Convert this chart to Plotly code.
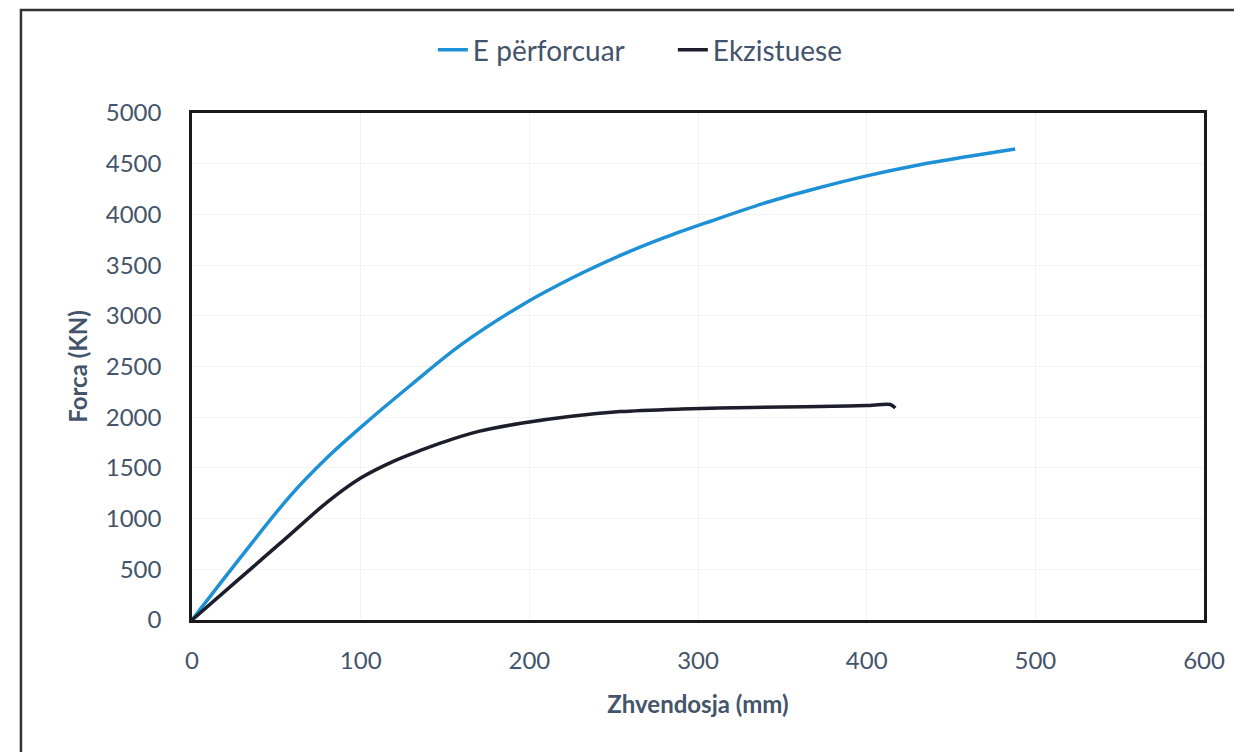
import plotly.graph_objects as go

# Data
x_perforcuar = [0, 28, 58, 80, 100, 130, 160, 195, 225, 254, 280, 307, 341, 370, 400, 430, 460, 488]
y_perforcuar = [0, 600, 1220, 1600, 1900, 2320, 2720, 3100, 3370, 3595, 3770, 3930, 4120, 4255, 4380, 4485, 4570, 4645]

x_ekzistuese = [0, 28, 58, 80, 100, 120, 135, 150, 170, 195, 225, 254, 290, 313, 350, 380, 400, 414, 417]
y_ekzistuese = [0, 405, 840, 1160, 1400, 1570, 1670, 1760, 1860, 1940, 2010, 2055, 2080, 2090, 2100, 2108, 2115, 2125, 2090]

x_ticks = [0, 100, 200, 300, 400, 500, 600]
y_ticks = [0, 500, 1000, 1500, 2000, 2500, 3000, 3500, 4000, 4500, 5000]

FONT = "Lato"
TXT = "#44546A"

fig = go.Figure()
fig.add_trace(go.Scatter(x=x_perforcuar, y=y_perforcuar, mode="lines", name="E përforcuar",
                         line=dict(color="#1E90D6", width=3.5, shape="spline", smoothing=1)))
fig.add_trace(go.Scatter(x=x_ekzistuese, y=y_ekzistuese, mode="lines", name="Ekzistuese",
                         line=dict(color="#1C1F2B", width=3.5, shape="spline", smoothing=0.8)))

fig.update_layout(
    width=1234, height=744,
    margin=dict(l=184, r=38, t=105, b=132),
    paper_bgcolor="white", plot_bgcolor="white",
    font=dict(family=FONT, size=24, color=TXT),
    legend=dict(orientation="h", x=0.238, xanchor="left", y=1.124, yanchor="middle",
                font=dict(family=FONT, size=28, color=TXT),
                entrywidth=195, entrywidthmode="pixels", tracegroupgap=0),
    shapes=[dict(type="rect", xref="paper", yref="paper", x0=-0.169, x1=1.06, y0=-0.30, y1=1.203,
                 line=dict(color="#333333", width=2.5), fillcolor="rgba(0,0,0,0)", layer="below")],
)
fig.update_xaxes(range=[0, 600], tickvals=x_ticks, showgrid=True, gridcolor="#F3F3F3",
                 showline=True, mirror=True, linecolor="#1a1a1a", linewidth=2.5, zeroline=False,
                 ticks="", ticklabelstandoff=17, tickfont=dict(size=24, color=TXT),
                 title=dict(text="<b>Zhvendosja (mm)</b>", font=dict(size=24, color=TXT), standoff=24))
fig.update_yaxes(range=[0, 5000], tickvals=y_ticks, showgrid=True, gridcolor="#F3F3F3",
                 showline=True, mirror=True, linecolor="#1a1a1a", linewidth=2.5, zeroline=False,
                 ticks="", ticklabelstandoff=23, tickfont=dict(size=24, color=TXT),
                 title=dict(text="<b>Forca (KN)</b>", font=dict(size=24, color=TXT), standoff=12))

fig.write_html("out.html")
